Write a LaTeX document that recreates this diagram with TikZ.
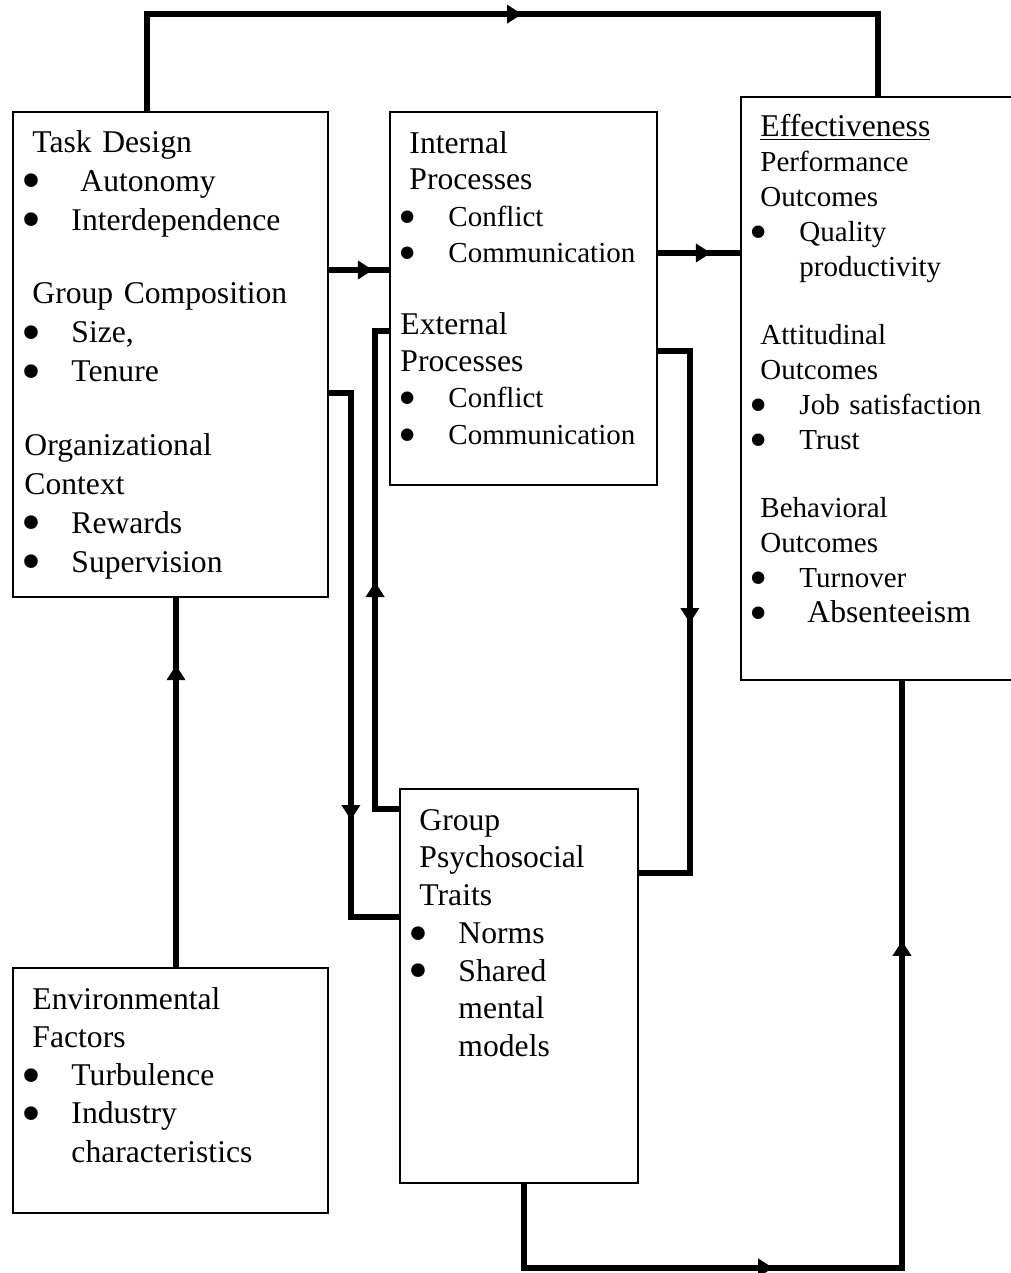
\documentclass[tikz,border=0pt]{standalone}
\usepackage{fontspec}
\setmainfont{Liberation Serif}
\usetikzlibrary{arrows.meta,decorations.markings}
\tikzstyle{block} = [rectangle, draw, line width=1pt, inner sep=0pt]
\tikzstyle{blocktext} = [anchor=base west, inner sep=0pt, align=left]
\tikzstyle{line} = [draw, line width=3pt, line join=miter]
\tikzset{arrowat/.style={postaction={decorate, decoration={markings,
    mark=at position #1 with {\arrow{Triangle[length=0.3cm,width=0.36cm]}}}}}}
\newcommand{\bitem}[1]{\hspace*{-0.21cm}\makebox[0.99cm][l]{\smash{\raisebox{-0.28em}{\scalebox{1.8}{\textbullet}}}}#1}
\newcommand{\smsize}{\fontsize{16.5pt}{\baselineskip}\selectfont}
\newcommand{\bgsize}{\fontsize{18pt}{\baselineskip}\selectfont}

\begin{document}
\begin{tikzpicture}
    \useasboundingbox (0,0) rectangle (20.2,-25.46);

        % Place boxes
        \node [block, minimum width=6.3cm, minimum height=9.7cm] (design) at (3.41,-7.09) {};
        \node [block, minimum width=5.34cm, minimum height=7.46cm] (process) at (10.47,-5.97) {};
        \node [block, minimum width=5.48cm, minimum height=11.66cm] (effect) at (17.56,-7.77) {};
        \node [block, minimum width=4.76cm, minimum height=7.88cm] (traits) at (10.38,-19.72) {};
        \node [block, minimum width=6.3cm, minimum height=4.9cm] (environ) at (3.41,-21.81) {};

        % Box texts
        \node [blocktext, text width=5.8cm, font=\fontsize{18pt}{0.78cm}\selectfont] (designtxt)
            at ([xshift=0.4cm,yshift=-0.82cm]design.north west)
            {Task Design\\
             \bitem{\hspace*{0.18cm}Autonomy}\\
             \bitem{Interdependence}\\[0.69cm]
             Group Composition\\
             \bitem{Size,}\\
             \bitem{Tenure}\\[0.69cm]
             \hspace*{-0.16cm}Organizational\\
             \hspace*{-0.16cm}Context\\
             \bitem{Rewards}\\
             \bitem{Supervision}};
        \node [blocktext, text width=4.8cm, font=\fontsize{18pt}{0.73cm}\selectfont] (processtxt)
            at ([xshift=0.4cm,yshift=-0.84cm]process.north west)
            {Internal\\
             Processes\\
             {\smsize\bitem{Conflict}}\\
             {\smsize\bitem{Communication}}\\[0.71cm]
             \hspace*{-0.18cm}External\\
             \hspace*{-0.18cm}Processes\\
             {\smsize\bitem{Conflict}}\\
             {\smsize\bitem{Communication}}};
        \node [blocktext, text width=5cm, font=\fontsize{16.5pt}{0.7cm}\selectfont] (effecttxt)
            at ([xshift=0.4cm,yshift=-0.8cm]effect.north west)
            {{\bgsize\underline{Effectiveness}}\\
             Performance\\
             Outcomes\\
             \bitem{Quality}\\
             \hspace*{0.78cm}productivity\\[0.66cm]
             Attitudinal\\
             Outcomes\\
             \bitem{Job satisfaction}\\
             \bitem{Trust}\\[0.66cm]
             Behavioral\\
             Outcomes\\
             \bitem{Turnover}\\
             \bitem{\hspace*{0.16cm}{\bgsize Absenteeism}}};
        \node [blocktext, text width=4.3cm, font=\fontsize{18pt}{0.755cm}\selectfont] (traitstxt)
            at ([xshift=0.4cm,yshift=-0.84cm]traits.north west)
            {Group\\
             Psychosocial\\
             Traits\\
             \bitem{Norms}\\
             \bitem{Shared}\\
             \hspace*{0.78cm}mental\\
             \hspace*{0.78cm}models};
        \node [blocktext, text width=5.8cm, font=\fontsize{18pt}{0.765cm}\selectfont] (environtxt)
            at ([xshift=0.4cm,yshift=-0.84cm]environ.north west)
            {Environmental\\
             Factors\\
             \bitem{Turbulence}\\
             \bitem{Industry}\\
             \hspace*{0.78cm}characteristics};

        % Draw edges
        \coordinate (dp) at ([yshift=1.69cm]design.east);
        \coordinate (pe) at ([yshift=0.91cm]process.east);
        \coordinate (dt) at ([yshift=-0.77cm]design.east);
        \coordinate (td) at ([yshift=1.38cm]traits.west);
        \coordinate (tp) at ([yshift=3.54cm]traits.west);
        \coordinate (pt) at ([yshift=-0.65cm]process.west);
        \coordinate (ps) at ([yshift=-1.05cm]process.east);
        \coordinate (sp) at ([yshift=2.26cm]traits.east);
        \coordinate (ed) at ([xshift=0.11cm]environ.north);

        \path [line, arrowat=9.44cm] ([xshift=-0.47cm]design.north) -- ++(0,1.94) -| (effect.north);
        \path [line, arrowat=0.88cm] (dp) -- (dp -| process.west);
        \path [line, arrowat=1.06cm] (pe) -- (pe -| effect.west);
        \path [line, arrowat=8.98cm] (dt) -- ++(0.44,0) |- (td);
        \path [line, arrowat=5.02cm] (tp) -- ++(-0.48,0) |- (pt);
        \path [line, arrowat=6.08cm] (ps) -- ++(0.64,0) |- (sp);
        \path [line, arrowat=6.66cm, arrowat=15.78cm] ([xshift=0.1cm]traits.south) -- ++(0,-1.68) -| ([xshift=0.48cm]effect.south);
        \path [line, arrowat=6.04cm] (ed) -- (ed |- design.south);

\end{tikzpicture}
\end{document}
